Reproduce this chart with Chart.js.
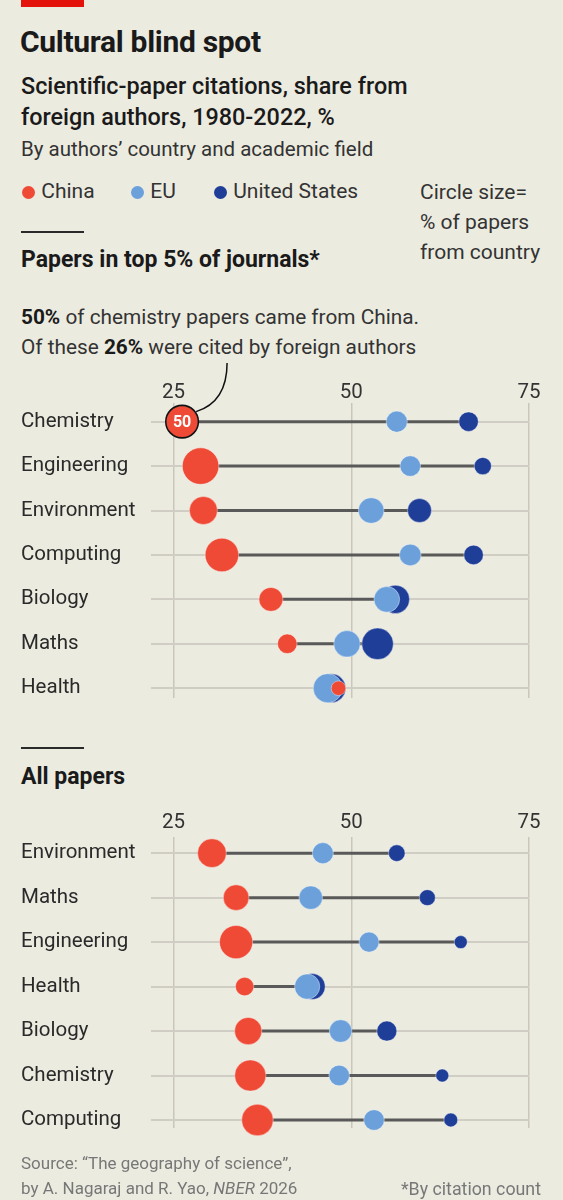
<!DOCTYPE html>
<html>
<head>
<meta charset="utf-8">
<script src="https://cdn.jsdelivr.net/npm/chart.js@4.4.1/dist/chart.umd.min.js"></script>
<style>
  body { margin: 0; background: #ecebe0; }
  #page { position: relative; width: 563px; height: 1200px; background: #ecebe0; font-family: Roboto, "Liberation Sans", sans-serif; color: #1a1a1a; overflow: hidden; }
  .t { position: absolute; white-space: nowrap; }
  .rule { position: absolute; left: 21px; width: 63px; height: 2px; background: #2a2a2a; }
  .dot { display: inline-block; width: 13px; height: 13px; border-radius: 50%; vertical-align: -1px; margin-right: 1px; }
  canvas { position: absolute; left: 0; }
</style>
</head>
<body>
<div id="page">
  <div style="position:absolute;left:21px;top:0;width:63px;height:7px;background:#e3120b"></div>
  <div class="t" style="left:20px;top:26px;font-size:30px;line-height:32px;font-weight:700;letter-spacing:-0.3px">Cultural blind spot</div>
  <div class="t" style="left:21px;top:71px;font-size:23.4px;line-height:31px;font-weight:500">Scientific-paper citations, share from<br>foreign authors, 1980-2022, %</div>
  <div class="t" style="left:21px;top:136px;font-size:20.5px;line-height:26px;color:#333">By authors’ country and academic field</div>

  <div class="t" style="left:22px;top:178px;font-size:21px;line-height:26px;color:#333">
    <span class="dot" style="background:#ee4a36"></span> China
  </div>
  <div class="t" style="left:131px;top:178px;font-size:21px;line-height:26px;color:#333">
    <span class="dot" style="background:#6ba0db"></span> EU
  </div>
  <div class="t" style="left:214px;top:178px;font-size:21px;line-height:26px;color:#333">
    <span class="dot" style="background:#1f3e98"></span> United States
  </div>
  <div class="t" style="left:420px;top:177px;font-size:21px;line-height:30px;color:#333">Circle size=<br>% of papers<br>from country</div>

  <div class="rule" style="top:231px"></div>
  <div class="t" style="left:21px;top:246px;font-size:23px;line-height:28px;font-weight:700">Papers in top 5% of journals*</div>
  <div class="t" style="left:21px;top:302px;font-size:20.8px;line-height:30px;color:#333"><b style="color:#1a1a1a">50%</b> of chemistry papers came from China.<br>Of these <b style="color:#1a1a1a">26%</b> were cited by foreign authors</div>

  <canvas id="topChart" width="563" height="367" style="top:355px;width:563px;height:367px"></canvas>

  <div class="rule" style="top:747px"></div>
  <div class="t" style="left:21px;top:763px;font-size:23px;line-height:28px;font-weight:700">All papers</div>

  <canvas id="allChart" width="563" height="352" style="top:800px;width:563px;height:352px"></canvas>

  <div class="t" style="left:21px;top:1151px;font-size:17px;line-height:25px;color:#777">Source: “The geography of science”,<br>by A. Nagaraj and R. Yao, <i>NBER</i> 2026</div>
  <div class="t" style="right:22px;top:1176px;font-size:17.8px;line-height:25px;color:#777">*By citation count</div>
</div>

<script>
const countries = ["China", "EU", "United States"];
const colours = ["#ee4a36", "#6ba0db", "#1f3e98"];
const xTicks = [25, 50, 75];

// Papers in top 5% of journals
const topFields = ["Chemistry", "Engineering", "Environment", "Computing", "Biology", "Maths", "Health"];
const topChina = [26.2, 28.8, 29.2, 31.8, 38.7, 41.0, 48.2];
const topEU = [56.4, 58.3, 52.8, 58.3, 55.0, 49.4, 46.7];
const topUS = [66.5, 68.5, 59.6, 67.2, 56.2, 53.7, 47.2];
// % of papers from country (circle size)
const topChinaSize = [50, 63, 37, 53, 27, 18, 10];
const topEUSize = [21, 20, 31, 22, 31, 33, 40];
const topUSSize = [18, 14, 27, 18, 38, 47, 39];

// All papers
const allFields = ["Environment", "Maths", "Engineering", "Health", "Biology", "Chemistry", "Computing"];
const allChina = [30.4, 33.8, 33.8, 35.0, 35.5, 35.8, 36.8];
const allEU = [46.0, 44.3, 52.5, 43.8, 48.5, 48.3, 53.2];
const allUS = [56.4, 60.7, 65.4, 44.5, 55.0, 62.8, 64.0];
const allChinaSize = [39, 31, 52, 16, 35, 46, 47];
const allEUSize = [21, 26, 19, 30, 24, 20, 20];
const allUSSize = [13, 12, 8, 32, 19, 8, 9];

const radius = (share) => 2.3 * Math.sqrt(share);

// dark bar joining lowest and highest value of each row
const connectors = {
  id: "connectors",
  beforeDatasetsDraw(chart) {
    const { ctx, scales } = chart;
    const rows = chart.data.datasets[0].data.length;
    ctx.save();
    ctx.strokeStyle = "#595959";
    ctx.lineWidth = 3;
    for (let i = 0; i < rows; i++) {
      const xs = chart.data.datasets.map((d) => d.data[i].x);
      const y = scales.y.getPixelForValue(i);
      ctx.beginPath();
      ctx.moveTo(scales.x.getPixelForValue(Math.min(...xs)), y);
      ctx.lineTo(scales.x.getPixelForValue(Math.max(...xs)), y);
      ctx.stroke();
    }
    ctx.restore();
  },
};

// callout on chemistry / China bubble
const callout = {
  id: "callout",
  afterDatasetsDraw(chart, args, opts) {
    if (!opts.show) return;
    const pt = chart.getDatasetMeta(0).data[0];
    const r = pt.options.radius;
    const { ctx } = chart;
    ctx.save();
    ctx.strokeStyle = "#111";
    ctx.lineWidth = 1.6;
    ctx.beginPath();
    ctx.arc(pt.x, pt.y, r, 0, Math.PI * 2);
    ctx.stroke();
    ctx.fillStyle = "#fff";
    ctx.font = "bold 16px Roboto";
    ctx.textAlign = "center";
    ctx.textBaseline = "middle";
    ctx.fillText(opts.text, pt.x, pt.y + 1);
    const ang = -0.62;
    const ex = pt.x + (r + 1) * Math.cos(ang);
    const ey = pt.y + (r + 1) * Math.sin(ang);
    const sx = pt.x + 45;
    const sy = 8;
    ctx.lineWidth = 1.5;
    ctx.beginPath();
    ctx.moveTo(sx, sy);
    ctx.bezierCurveTo(sx, sy + 32, sx - 15, ey - 5, ex, ey);
    ctx.stroke();
    ctx.restore();
  },
};

function makeChart(id, fields, series, sizes, cfg) {
  const datasets = series.map((vals, k) => ({
    label: countries[k],
    data: vals.map((v, i) => ({ x: v, y: i, r: radius(sizes[k][i]) })),
    backgroundColor: colours[k],
    borderColor: "rgba(255,255,255,0.4)",
    borderWidth: 1,
    clip: false,
  }));
  return new Chart(document.getElementById(id), {
    type: "bubble",
    data: { datasets },
    plugins: [connectors, callout],
    options: {
      responsive: false,
      animation: false,
      events: [],
      // bottom padding larger than the biggest bubble so it sets the plot edge
      layout: { padding: { left: 21, right: 34, top: 0, bottom: 24 } },
      plugins: {
        legend: { display: false },
        tooltip: { enabled: false },
        callout: cfg.callout,
      },
      scales: {
        x: {
          type: "linear",
          position: "top",
          min: 21.8,
          max: 75,
          afterBuildTicks: (s) => { s.ticks = xTicks.map((v) => ({ value: v })); },
          afterFit: (s) => { s.height = cfg.axisHeight; },
          grid: { color: "#c9c7bc", lineWidth: 1.5, drawTicks: false },
          border: { display: false },
          ticks: { font: { family: "Roboto", size: 20.5 }, color: "#333", padding: cfg.tickPad, maxRotation: 0 },
        },
        y: {
          type: "linear",
          reverse: true,
          min: cfg.yMin,
          max: cfg.yMax,
          afterBuildTicks: (s) => { s.ticks = fields.map((_, i) => ({ value: i })); },
          afterFit: (s) => { s.width = 129.8; },
          grid: { color: "#d0cec4", lineWidth: 2, drawTicks: false },
          border: { display: false },
          ticks: {
            callback: (v) => fields[v],
            crossAlign: "far",
            padding: 0,
            font: { family: "Roboto", size: 20.5, lineHeight: 0.8 },
            color: "#2a2a2a",
          },
        },
      },
    },
  });
}

makeChart("topChart", topFields, [topChina, topEU, topUS], [topChinaSize, topEUSize, topUSSize], {
  axisHeight: 48, tickPad: -2, yMin: -0.42, yMax: 6.22,
  callout: { show: true, text: String(topChinaSize[0]) },
});
makeChart("allChart", allFields, [allChina, allEU, allUS], [allChinaSize, allEUSize, allUSSize], {
  axisHeight: 36.7, tickPad: 2, yMin: -0.37, yMax: 6.18,
  callout: { show: false },
});
</script>
</body>
</html>
